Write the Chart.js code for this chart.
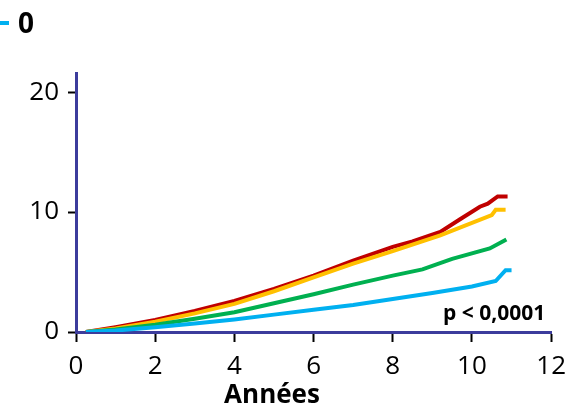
<!DOCTYPE html>
<html>
<head>
<meta charset="utf-8">
<script src="https://cdn.jsdelivr.net/npm/chart.js@4.4.1/dist/chart.umd.min.js"></script>
<style>
  html, body { margin: 0; padding: 0; background: #fff; }
  #wrap { position: relative; width: 575px; height: 407px; overflow: hidden; }
</style>
</head>
<body>
<div id="wrap"><canvas id="myChart" width="575" height="407"></canvas></div>
<script>
// values (years, cumulative %)
let blueX = [0.25, 1, 2, 3, 4, 5, 6, 7, 8, 9, 10, 10.6, 10.85, 11.0];
let blueY = [0, 0.12, 0.4, 0.7, 1.05, 1.45, 1.85, 2.25, 2.75, 3.25, 3.8, 4.25, 5.15, 5.15];
let greenX = [0.25, 1, 2, 3, 4, 5, 6, 7, 8, 8.75, 9.5, 10.45, 10.87];
let greenY = [0, 0.2, 0.6, 1.1, 1.65, 2.4, 3.15, 3.95, 4.7, 5.22, 6.1, 6.97, 7.72];
let yellowX = [0.25, 1, 2, 3, 4, 5, 6, 7, 8, 9.2, 10.5, 10.6, 10.85];
let yellowY = [0, 0.3, 0.85, 1.55, 2.35, 3.4, 4.55, 5.7, 6.75, 8.05, 9.75, 10.2, 10.2];
let redX = [0.25, 1, 2, 3, 4, 5, 6, 7, 8, 8.5, 9.2, 9.7, 10.2, 10.4, 10.65, 10.9];
let redY = [0, 0.4, 1.0, 1.75, 2.6, 3.6, 4.7, 5.95, 7.1, 7.55, 8.35, 9.4, 10.45, 10.7, 11.3, 11.3];

let seriesNames = ['0', '1', '2', '3'];
let seriesColors = ['#00b0f0', '#00b050', '#ffc000', '#c00000'];
let xTicks = [0, 2, 4, 6, 8, 10, 12];
let yTicks = [0, 10, 20];
let xTitle = 'Années';
let pText = 'p < 0,0001';

function pts(xs, ys) {
  return xs.map(function (x, i) { return { x: x, y: ys[i] }; });
}

let allX = [blueX, greenX, yellowX, redX];
let allY = [blueY, greenY, yellowY, redY];

let datasets = allX.map(function (xs, i) {
  return {
    label: seriesNames[i],
    data: pts(xs, allY[i]),
    borderColor: seriesColors[i],
    backgroundColor: seriesColors[i],
    borderWidth: 4,
    pointRadius: 0,
    tension: 0,
    fill: false
  };
});

const axisColor = '#3c3c9c';

const textPlugin = {
  id: 'texts',
  afterDraw(chart) {
    const ctx = chart.ctx;
    const xs = chart.scales.x;
    const ys = chart.scales.y;
    ctx.save();
    ctx.fillStyle = '#000';

    // axis title, sits left of centre like in the original
    ctx.font = 'bold 26px "Open Sans"';
    ctx.textAlign = 'center';
    ctx.textBaseline = 'alphabetic';
    ctx.fillText(xTitle, xs.getPixelForValue(4.95), 403);

    // p value
    ctx.font = 'bold 21px "Open Sans"';
    ctx.textAlign = 'right';
    ctx.fillText(pText, xs.getPixelForValue(11.85), ys.getPixelForValue(0) - 12);

    // legend fragment (cut at the left border)
    ctx.strokeStyle = seriesColors[0];
    ctx.lineWidth = 4;
    ctx.beginPath();
    ctx.moveTo(-20, 23);
    ctx.lineTo(9, 23);
    ctx.stroke();
    ctx.font = 'bold 28px "Open Sans"';
    ctx.textAlign = 'left';
    ctx.fillText(seriesNames[0], 18, 33);
    ctx.restore();
  }
};

let ctx = document.getElementById('myChart');
let chart = new Chart(ctx, {
  type: 'line',
  data: { datasets: datasets },
  plugins: [textPlugin],
  options: {
    responsive: false,
    animation: false,
    devicePixelRatio: 1,
    layout: { padding: { top: 73, right: 20, left: 1, bottom: 0 } },
    plugins: {
      legend: { display: false },
      tooltip: { enabled: false }
    },
    scales: {
      x: {
        type: 'linear',
        min: 0,
        max: 12,
        afterBuildTicks: function (s) { s.ticks = xTicks.map(function (v) { return { value: v }; }); },
        afterFit: function (s) { s.height = 75; },
        ticks: {
          color: '#000',
          font: { family: 'Open Sans', size: 26 },
          padding: 9,
          maxRotation: 0,
          autoSkip: false
        },
        grid: {
          drawOnChartArea: false,
          tickLength: 10,
          tickColor: '#000',
          tickWidth: 2
        },
        border: { color: axisColor, width: 3 }
      },
      y: {
        min: 0,
        max: 21.6,
        afterBuildTicks: function (s) { s.ticks = yTicks.map(function (v) { return { value: v }; }); },
        afterFit: function (s) { s.width = 75; },
        ticks: {
          color: '#000',
          font: { family: 'Open Sans', size: 26 },
          padding: 9
        },
        grid: {
          drawOnChartArea: false,
          tickLength: 8,
          tickColor: '#000',
          tickWidth: 2
        },
        border: { color: axisColor, width: 3 }
      }
    }
  }
});
</script>
</body>
</html>
